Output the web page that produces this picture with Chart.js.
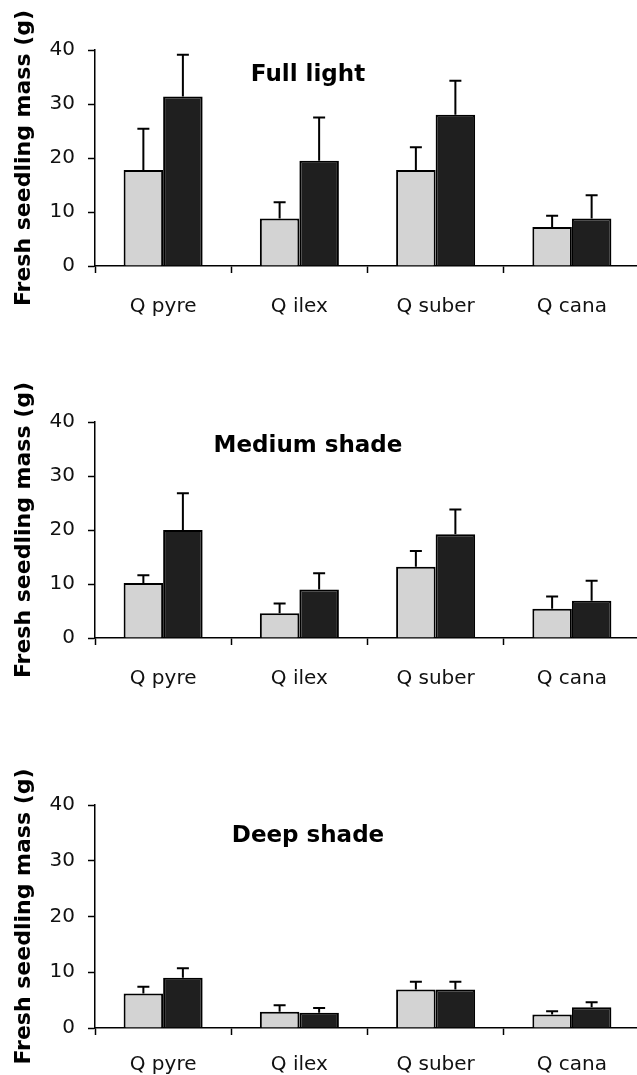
<!DOCTYPE html>
<html>
<head>
<meta charset="utf-8">
<script src="https://cdn.jsdelivr.net/npm/chart.js@4.4.0/dist/chart.umd.min.js"></script>
<style>
  html, body { margin: 0; padding: 0; background: #fff; overflow: hidden; }
  body { width: 637px; height: 1075px; position: relative; }
  canvas { position: absolute; left: 0; }
</style>
</head>
<body>
<canvas id="fullLight" width="641" height="326" style="top:0px"></canvas>
<canvas id="mediumShade" width="641" height="326" style="top:372px"></canvas>
<canvas id="deepShade" width="641" height="333" style="top:755px"></canvas>
<script>
const species = ["Q pyre", "Q ilex", "Q suber", "Q cana"];
const yMin = 0, yMax = 40, yStep = 10;

// Full light
const fullLightMean = [17.8, 8.8, 17.8, 7.2];
const fullLightErr = [7.6, 3.0, 4.2, 2.1];
const fullDarkMean = [31.4, 19.5, 28.0, 8.8];
const fullDarkErr = [7.7, 8.0, 6.3, 4.3];

// Medium shade
const mediumLightMean = [10.2, 4.6, 13.2, 5.4];
const mediumLightErr = [1.4, 1.8, 2.9, 2.3];
const mediumDarkMean = [20.0, 9.0, 19.2, 6.9];
const mediumDarkErr = [6.8, 3.0, 4.6, 3.7];

// Deep shade
const deepLightMean = [6.2, 2.9, 6.9, 2.4];
const deepLightErr = [1.2, 1.2, 1.4, 0.6];
const deepDarkMean = [9.0, 2.75, 6.9, 3.7];
const deepDarkErr = [1.7, 0.85, 1.4, 0.9];

Chart.defaults.font.family = "'DejaVu Sans', sans-serif";
Chart.defaults.color = "#111";

// upper whiskers only, drawn from the bar top
const errorBars = {
  id: "errorBars",
  afterDatasetsDraw(chart) {
    const ctx = chart.ctx;
    const y = chart.scales.y;
    ctx.save();
    ctx.strokeStyle = "#000";
    ctx.lineWidth = 2;
    chart.data.datasets.forEach((ds, i) => {
      chart.getDatasetMeta(i).data.forEach((bar, j) => {
        const top = y.getPixelForValue(ds.data[j] + ds.errors[j]);
        ctx.beginPath();
        ctx.moveTo(bar.x, bar.y);
        ctx.lineTo(bar.x, top);
        ctx.moveTo(bar.x - 6, top);
        ctx.lineTo(bar.x + 6, top);
        ctx.stroke();
      });
    });
    ctx.restore();
  }
};

const panelTitle = {
  id: "panelTitle",
  afterDraw(chart, args, opts) {
    const ctx = chart.ctx;
    ctx.save();
    ctx.font = "bold 23px 'DejaVu Sans'";
    ctx.fillStyle = "#000";
    ctx.textAlign = "center";
    ctx.textBaseline = "middle";
    ctx.fillText(opts.text, opts.x, chart.chartArea.top + opts.dy);
    ctx.restore();
  }
};

function makePanel(id, title, dy, labelPad, lightMean, lightErr, darkMean, darkErr) {
  new Chart(document.getElementById(id), {
    type: "bar",
    data: {
      labels: species,
      datasets: [
        { data: lightMean, errors: lightErr, backgroundColor: "#d3d3d3",
          borderColor: "#000", borderWidth: 2 },
        { data: darkMean, errors: darkErr, backgroundColor: "#1f1f1f",
          borderColor: "#000", borderWidth: 2 }
      ]
    },
    options: {
      responsive: false,
      animation: false,
      layout: { padding: { top: 50, right: 1, left: 0, bottom: 0 } },
      datasets: { bar: { categoryPercentage: 0.58, barPercentage: 1 } },
      plugins: {
        legend: { display: false },
        tooltip: { enabled: false },
        panelTitle: { text: title, x: 308, dy: dy }
      },
      scales: {
        x: {
          afterFit: s => { s.height = 60; },
          grid: { drawOnChartArea: false, drawTicks: true, tickLength: 7,
                  tickColor: "#000", tickWidth: 1.5 },
          border: { color: "#000", width: 1.5 },
          ticks: { font: { size: 20 }, padding: labelPad, color: "#111" }
        },
        y: {
          min: yMin, max: yMax,
          afterFit: s => { s.width = 95; },
          grid: { drawOnChartArea: false, drawTicks: true, tickLength: 7,
                  tickColor: "#000", tickWidth: 1.5 },
          border: { color: "#000", width: 1.5 },
          ticks: { stepSize: yStep, font: { size: 20 }, padding: 13, color: "#111" },
          title: {
            display: true,
            text: "Fresh seedling mass (g)",
            color: "#000",
            font: { size: 22, weight: "bold" },
            padding: { top: 11, bottom: 0 }
          }
        }
      }
    },
    plugins: [errorBars, panelTitle]
  });
}

makePanel("fullLight", "Full light", 25, 22, fullLightMean, fullLightErr, fullDarkMean, fullDarkErr);
makePanel("mediumShade", "Medium shade", 24, 22, mediumLightMean, mediumLightErr, mediumDarkMean, mediumDarkErr);
makePanel("deepShade", "Deep shade", 31, 18, deepLightMean, deepLightErr, deepDarkMean, deepDarkErr);
</script>
</body>
</html>
